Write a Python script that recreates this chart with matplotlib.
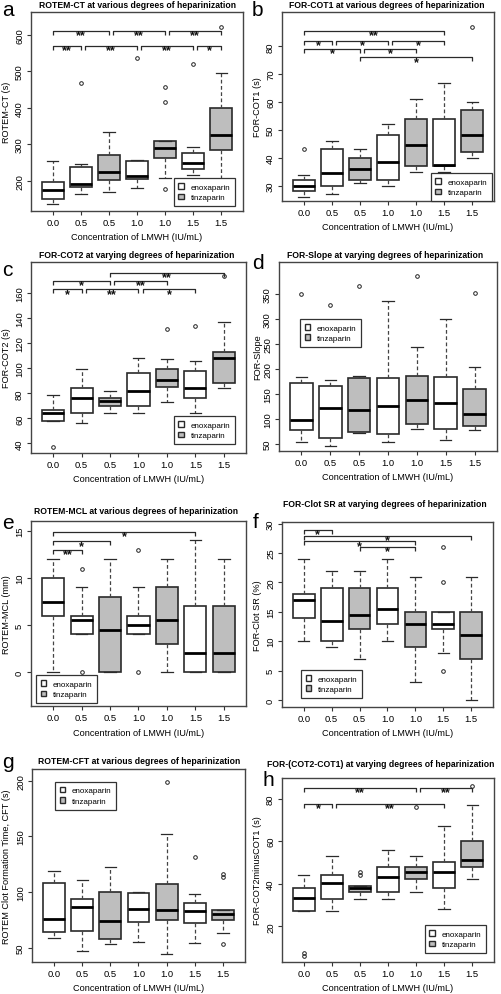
import matplotlib
matplotlib.use("Agg")
import matplotlib.pyplot as plt
from matplotlib.patches import Patch

plt.rcParams['font.family'] = ['Liberation Sans', 'DejaVu Sans']

groups = ["0.0", "0.5", "0.5", "1.0", "1.0", "1.5", "1.5"]
drug = ["enoxaparin", "enoxaparin", "tinzaparin", "enoxaparin",
        "tinzaparin", "enoxaparin", "tinzaparin"]

# each row: lower whisker, q1, median, q3, upper whisker
ct_stats = [[137, 150, 175, 197, 255], [165, 182, 192, 238, 247],
            [168, 203, 223, 272, 334], [181, 205, 214, 255, 258],
            [208, 262, 290, 308, 308], [217, 232, 250, 275, 293],
            [200, 285, 325, 400, 496]]
ct_fliers = [[], [467], [], [538], [178, 415, 458], [520], [622]]
ct_sig = [(1, 3, 611, "**"), (3, 5, 611, "**"), (5, 7, 611, "**"),
          (1, 2, 570, "**"), (2, 4, 570, "**"), (4, 6, 570, "**"), (6, 7, 570, "*")]

cot1_stats = [[26, 28, 30, 32, 34], [27, 30, 34.5, 43, 46],
              [31, 32, 36, 40, 43], [30, 32, 38.5, 48, 52],
              [35, 37, 44.5, 54, 61], [35, 37, 37.5, 54, 67],
              [40, 42, 48, 57, 60]]
cot1_fliers = [[43], [], [], [], [], [], [87]]
cot1_sig = [(1, 6, 85.4, "**"), (1, 2, 82, "*"), (2, 4, 82, "*"), (4, 6, 82, "*"),
            (1, 3, 79, "*"), (3, 5, 79, "*"), (3, 7, 76, "*")]

cot2_stats = [[58, 58, 64.5, 67, 79], [56, 64, 76, 84, 99],
              [64, 70, 74, 76.5, 82], [64, 70, 81.5, 96, 108],
              [73, 85, 90.5, 99, 107], [64, 76, 84.5, 98, 106],
              [84, 88, 108, 113, 137]]
cot2_fliers = [[37], [], [], [], [131], [134], [174]]
cot2_sig = [(3, 7, 176, "**"), (1, 3, 169.5, "*"), (3, 5, 169.5, "**"),
            (1, 2, 163, "*"), (2, 4, 163, "**"), (4, 6, 163, "*")]

slope_stats = [[53, 78, 98, 172, 183], [45, 62, 121, 166, 177],
               [72, 73, 118, 181, 185], [54, 69, 126, 181, 336],
               [80, 89, 137, 186, 245], [58, 80, 132, 184, 300],
               [78, 86, 109, 160, 203]]
slope_fliers = [[350], [328], [366], [], [386], [], [352]]
slope_sig = []

mcl_stats = [[0, 6, 7.5, 10, 12], [4, 4, 5.5, 6, 9],
             [0, 0, 4.5, 8, 12], [4, 4, 5, 6, 9],
             [0, 3, 5.5, 9, 12], [0, 0, 2, 7, 14],
             [0, 0, 2, 7, 12]]
mcl_fliers = [[], [0, 11], [], [0, 13], [], [], []]
mcl_sig = [(1, 6, 14.9, "*"), (1, 3, 13.9, "*"), (1, 2, 12.95, "**")]

sr_stats = [[10, 14, 17, 18, 24], [9, 10, 13.5, 19, 22],
            [7, 12, 14.5, 19, 22], [10, 13, 15.5, 19, 24],
            [3, 9, 13, 15, 21], [8, 12, 13, 15, 15],
            [0, 7, 11, 15, 21]]
sr_fliers = [[], [], [], [], [], [5, 20, 26], []]
sr_sig = [(1, 2, 29, "*"), (1, 7, 28, "*"), (1, 5, 27, "*"), (3, 5, 26, "*")]

cft_stats = [[59, 64, 76, 108, 119], [47, 65, 86, 94, 111],
             [53, 58, 74, 100, 122], [55, 73, 85, 99, 100],
             [44, 75, 84, 107, 152], [54, 72, 83, 90, 98],
             [63, 75, 80, 84, 84]]
cft_fliers = [[], [], [], [], [199], [131], [53, 113, 116]]
cft_sig = []

diff_stats = [[27, 27, 33.5, 38, 44], [27, 33, 40.5, 44, 53],
              [33, 36, 38, 39, 39], [33, 36, 43, 48, 56],
              [36, 42, 45.5, 48, 53], [28, 38, 45.5, 50, 67],
              [42, 48, 51, 60, 77]]
diff_fliers = [[5.8, 7.2], [], [44, 45.4], [], [76], [], [86]]
diff_sig = [(1, 5, 85, "**"), (5, 7, 85, "**"), (1, 2, 77.5, "*"), (2, 6, 77.5, "**")]

W, H = 502, 995
GREY = "#bebebe"
EDGE = "#2a2a2a"

panels = [
    dict(letter="a", title="ROTEM-CT at various degrees of heparinization",
         ylabel="ROTEM-CT (s)", stats=ct_stats, fliers=ct_fliers, sig=ct_sig,
         rect=(31, 13, 243, 212), ylim=(117, 663), yticks=range(200, 601, 100),
         leg=("lower right", (0.962, 0.025)), title_xy=(138, 6), letter_xy=(2, 16)),
    dict(letter="b", title="FOR-COT1 at various degrees of heparinization",
         ylabel="FOR-COT1 (s)", stats=cot1_stats, fliers=cot1_fliers, sig=cot1_sig,
         rect=(282, 13, 494, 202), ylim=(24.5, 92.3), yticks=range(30, 81, 10),
         leg=("lower right", (0.99, 0.0)), title_xy=(387, 6), letter_xy=(252, 16)),
    dict(letter="c", title="FOR-COT2 at varying degrees of heparinization",
         ylabel="FOR-COT2 (s)", stats=cot2_stats, fliers=cot2_fliers, sig=cot2_sig,
         rect=(31, 263, 246, 454), ylim=(32.3, 184.8), yticks=range(40, 161, 20),
         leg=("lower right", (0.949, 0.047)), title_xy=(137, 256), letter_xy=(2, 276)),
    dict(letter="d", title="FOR-Slope at varying degrees of heparinization",
         ylabel="FOR-Slope", stats=slope_stats, fliers=slope_fliers, sig=slope_sig,
         rect=(279, 263, 497, 452), ylim=(35, 415), yticks=range(50, 351, 50),
         leg=("upper left", (0.096, 0.698)), title_xy=(385, 256), letter_xy=(252, 269)),
    dict(letter="e", title="ROTEM-MCL at various degrees of heparinization",
         ylabel="ROTEM-MCL (mm)", stats=mcl_stats, fliers=mcl_fliers, sig=mcl_sig,
         rect=(31, 522, 246, 707), ylim=(-3.6, 16.06), yticks=range(0, 16, 5),
         leg=("lower left", (0.023, 0.016)), title_xy=(136, 511), letter_xy=(2, 529)),
    dict(letter="f", title="FOR-Clot SR at varying degrees of heparinization",
         ylabel="FOR-Clot SR (%)", stats=sr_stats, fliers=sr_fliers, sig=sr_sig,
         rect=(282, 523, 493, 708), ylim=(-1.2, 30.3), yticks=range(0, 31, 5),
         leg=("lower left", (0.09, 0.049)), title_xy=(385, 505), letter_xy=(253, 528)),
    dict(letter="g", title="ROTEM-CFT at various degrees of heparinization",
         ylabel="ROTEM Clot Formation Time, CFT (s)", stats=cft_stats, fliers=cft_fliers,
         sig=cft_sig, rect=(32, 770, 245, 963), ylim=(37, 210.5), yticks=range(50, 201, 50),
         leg=("upper left", (0.108, 0.933)), title_xy=(139, 762), letter_xy=(2, 768)),
    dict(letter="h", title="FOR-(COT2-COT1) at varying degrees of heparinization",
         ylabel="FOR-COT2minusCOT1 (s)", stats=diff_stats, fliers=diff_fliers, sig=diff_sig,
         rect=(282, 779, 494, 963), ylim=(3.2, 89.7), yticks=range(20, 81, 20),
         leg=("lower right", (0.962, 0.049)), title_xy=(381, 765), letter_xy=(263, 786)),
]


def draw_sig(ax, sig, tip):
    # brackets that start where another one ends get nudged right
    ends = {}
    for i, j, y, lab in sig:
        ends.setdefault(y, []).append(j)
    for i, j, y, lab in sig:
        x0 = i + 0.15 if i in ends[y] else i
        ax.plot([x0, x0, j, j], [y - tip, y, y, y - tip], color=EDGE, lw=0.9,
                solid_capstyle="butt")
        ax.text((x0 + j) / 2, y - tip * 1.1, lab, ha="center", va="center",
                fontsize=9, fontweight="bold", color="#111")


fig = plt.figure(figsize=(W / 100, H / 100), dpi=100)

for p in panels:
    l, t, r, b = p["rect"]
    ax = fig.add_axes([l / W, 1 - b / H, (r - l) / W, (b - t) / H])
    bstats = []
    for k, (lo, q1, med, q3, hi) in enumerate(p["stats"]):
        bstats.append(dict(whislo=lo, q1=q1, med=med, q3=q3, whishi=hi,
                           fliers=p["fliers"][k], label=groups[k]))
    res = ax.bxp(bstats, positions=range(1, 8), widths=0.78, patch_artist=True,
                 boxprops=dict(edgecolor=EDGE, linewidth=1.2),
                 medianprops=dict(color="black", linewidth=2.0, solid_capstyle="butt"),
                 whiskerprops=dict(color="#444", linewidth=0.9, linestyle=(0, (3, 2))),
                 capprops=dict(color=EDGE, linewidth=0.9),
                 flierprops=dict(marker="o", markersize=2.6, markerfacecolor="none",
                                 markeredgecolor="#222", markeredgewidth=0.7))
    for k, box in enumerate(res["boxes"]):
        box.set_facecolor("white" if drug[k] == "enoxaparin" else GREY)
    for cap in res["caps"]:
        xs = cap.get_xdata()
        c = (xs[0] + xs[1]) / 2
        cap.set_xdata([c - 0.2, c + 0.2])

    ax.set_xlim(0.22, 7.78)
    ax.set_ylim(*p["ylim"])
    ax.set_yticks(list(p["yticks"]))
    ax.tick_params(axis="both", length=3, width=0.8, color="#333", labelsize=6.8, pad=2)
    ax.tick_params(axis="y", labelrotation=90)
    for lab in ax.get_yticklabels():
        lab.set_va("center")
    for sp in ax.spines.values():
        sp.set_color("#444")
        sp.set_linewidth(1.0)

    ax.set_xlabel("Concentration of LMWH (IU/mL)", fontsize=6.6, labelpad=4)
    ax.set_ylabel(p["ylabel"], fontsize=6.6, va="center")
    ax.yaxis.set_label_coords((7 + (251 if l > 251 else 0) - l) / (r - l), 0.5)

    tip = (p["ylim"][1] - p["ylim"][0]) * 4.0 / (b - t)
    draw_sig(ax, p["sig"], tip)

    handles = [Patch(facecolor="white", edgecolor=EDGE, label="enoxaparin"),
               Patch(facecolor=GREY, edgecolor=EDGE, label="tinzaparin")]
    loc, anchor = p["leg"]
    leg = ax.legend(handles=handles, loc=loc, bbox_to_anchor=anchor, fontsize=5.8,
                    frameon=True, fancybox=False, framealpha=1, edgecolor="#333",
                    handlelength=0.7, handleheight=0.7, handletextpad=0.8,
                    labelspacing=0.35, borderpad=0.6, borderaxespad=0)
    leg.get_frame().set_linewidth(0.9)

    tx, ty = p["title_xy"]
    fig.text(tx / W, 1 - ty / H, p["title"], ha="center", va="center",
             fontsize=6.2, fontweight="bold")
    lx, ly = p["letter_xy"]
    fig.text(lx / W, 1 - ly / H, p["letter"], ha="left", va="baseline", fontsize=15)

fig.savefig("out.png", dpi=100)
